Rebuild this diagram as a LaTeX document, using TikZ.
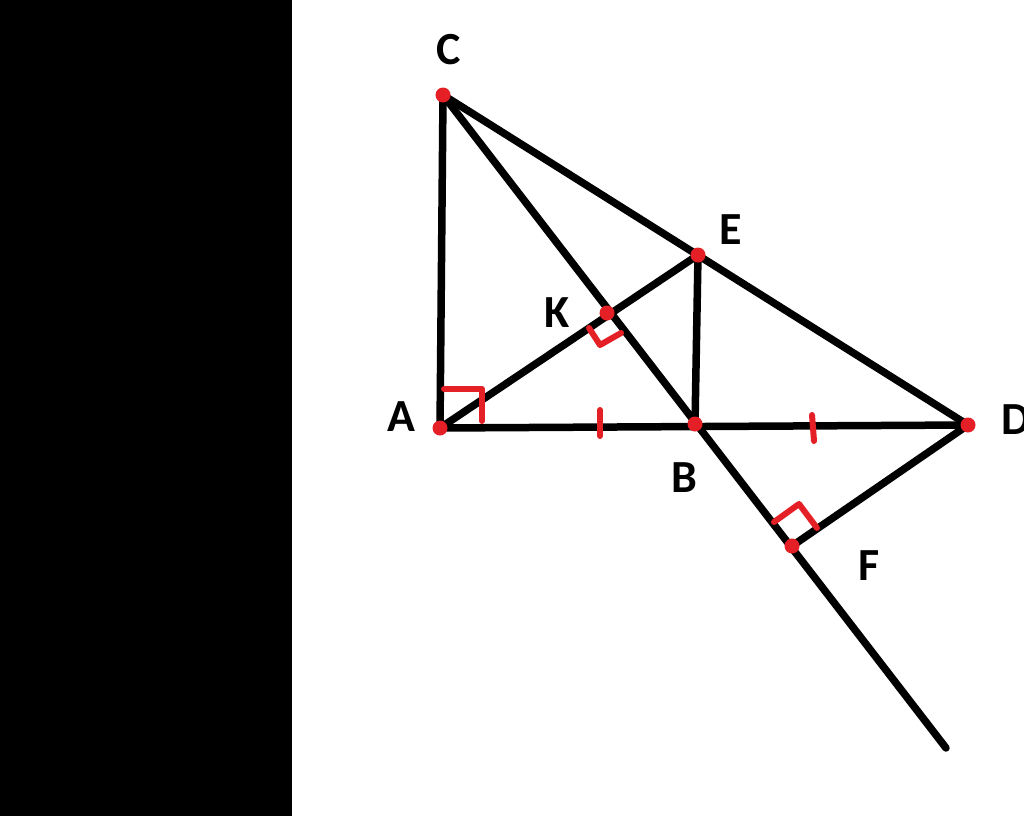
\documentclass[tikz,border=0pt]{standalone}
\usepackage{fontspec}
\setmainfont{Carlito}
\definecolor{mkred}{RGB}{228,32,38}
\begin{document}
\begin{tikzpicture}[x=1pt,y=-1pt,
  seg/.style={line width=7.5pt,black,line cap=round},
  redmark/.style={line width=6pt,mkred,line cap=round,line join=round},
  pt/.style={circle,fill=mkred,inner sep=0pt,minimum size=15pt},
  lab/.style={font=\fontsize{46}{46}\selectfont\bfseries,text=black,inner sep=0pt}]
\useasboundingbox (0,0) rectangle (1024,816);
\fill[white] (0,0) rectangle (1024,816);
\fill[black] (0,0) rectangle (292,816);
% points
\coordinate (C) at (443,95);
\coordinate (A) at (440,428);
\coordinate (B) at (695,424);
\coordinate (D) at (968,425);
\coordinate (E) at (698,255);
\coordinate (K) at (607,313);
\coordinate (F) at (792,546);
\coordinate (G) at (946,748);
% lines
\draw[seg] (C) -- (A);
\draw[seg] (C) -- (D);
\draw[seg] (C) -- (G);
\draw[seg] (A) -- (D);
\draw[seg] (A) -- (E);
\draw[seg] (E) -- (B);
\draw[seg] (D) -- (F);
% right angle marks
\draw[redmark] (444,389) -- (482,389) -- (482,421);
\draw[redmark] (589,328) -- (600,345) -- (621,333);
\draw[redmark] (774,522) -- (799,504) -- (817,528);
% ticks
\draw[redmark] (600,410) -- (600,436);
\draw[redmark] (812,415) -- (814,441);
% dots
\foreach \p in {C,A,B,D,E,K,F} \node[pt] (d\p) at (\p) {};
% labels
\node[lab] (lC) at (449,50) {C};
\node[lab] (lK) at (557,313) {K};
\node[lab] (lE) at (731,230) {E};
\node[lab] (lA) at (401,417) {A};
\node[lab] (lB) at (684,478) {B};
\node[lab] (lD) at (1016,420) {D};
\node[lab] (lF) at (869,566) {F};
\end{tikzpicture}
\end{document}
